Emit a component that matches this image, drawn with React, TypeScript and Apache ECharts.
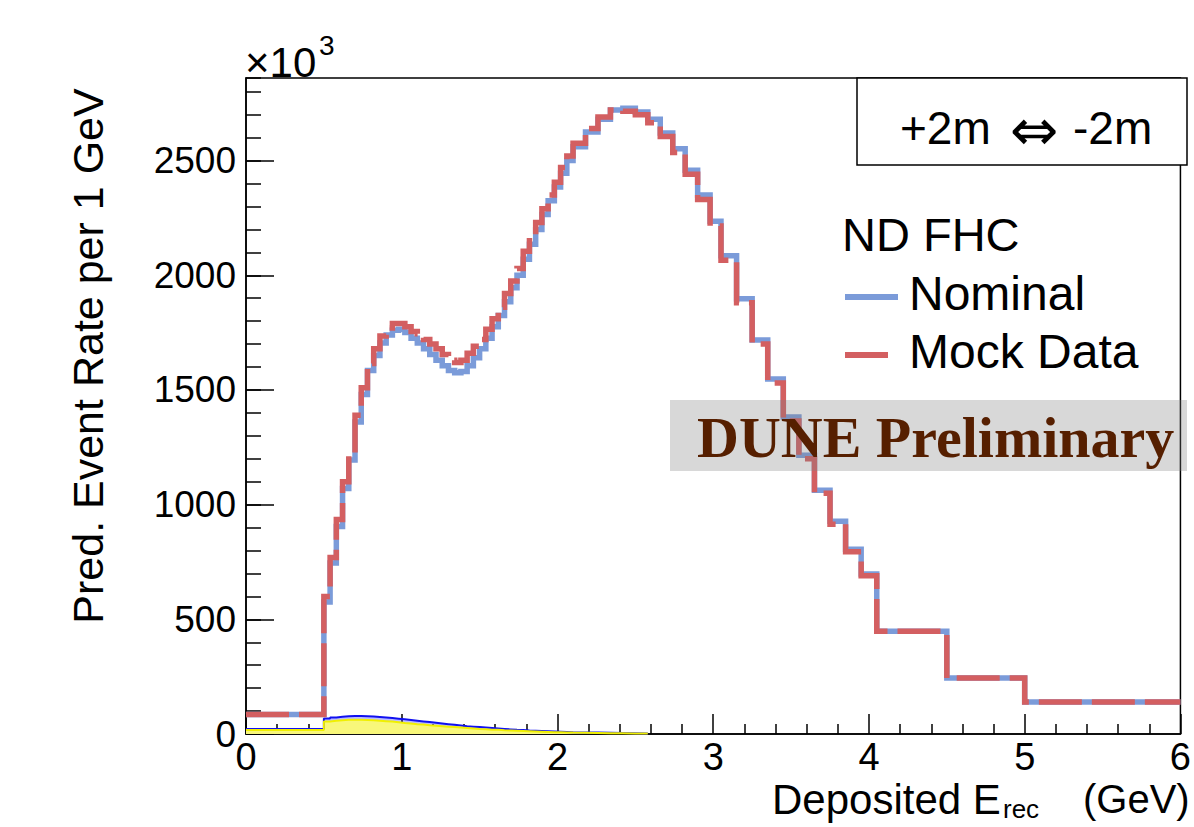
import React, { useEffect, useRef } from "react";
import * as echarts from "echarts";

// Bin edges (GeV) of the reconstructed deposited energy histogram
const EDGES = [
  0, 0.5, 0.54, 0.58, 0.62, 0.66, 0.7, 0.74, 0.78, 0.82, 0.86, 0.9, 0.94, 0.98,
  1.02, 1.06, 1.1, 1.14, 1.18, 1.22, 1.26, 1.3, 1.34, 1.38, 1.42, 1.46, 1.5,
  1.54, 1.58, 1.62, 1.66, 1.7, 1.74, 1.78, 1.82, 1.86, 1.9, 1.94, 1.98, 2.02,
  2.06, 2.1, 2.18, 2.26, 2.34, 2.42, 2.5, 2.58, 2.66, 2.74, 2.82, 2.9, 2.98,
  3.05, 3.15, 3.25, 3.35, 3.45, 3.55, 3.65, 3.75, 3.85, 3.95, 4.05, 4.5, 5, 6,
];

// Predicted event rate per 1 GeV (x10^3), Nominal
const NOMINAL = [
  85,
  575, 745, 905, 1070, 1195, 1360, 1480, 1585, 1650, 1705,
  1740, 1760, 1765, 1750, 1725, 1705, 1680, 1655, 1630, 1605,
  1585, 1575, 1580, 1605, 1640, 1680, 1725, 1775, 1825, 1885,
  1945, 2000, 2070, 2135, 2200, 2265, 2325, 2385, 2445, 2500,
  2560, 2625, 2680, 2720, 2728, 2712, 2680, 2620, 2552, 2458, 2350,
  2235,
  2085, 1898, 1718, 1548, 1382, 1215, 1063, 927, 805, 698,
  448, 244, 140,
];

// Mock Data
const MOCK = [
  85,
  600, 770, 935, 1100, 1225, 1390, 1510, 1615, 1680, 1735,
  1770, 1790, 1790, 1775, 1755, 1745, 1720, 1700, 1680, 1655,
  1630, 1620, 1630, 1660, 1690, 1720, 1765, 1810, 1860, 1920,
  1975, 2030, 2105, 2165, 2230, 2290, 2350, 2405, 2470, 2520,
  2575, 2640, 2690, 2720, 2715, 2700, 2665, 2605, 2535, 2440, 2330,
  2215,
  2065, 1880, 1700, 1530, 1365, 1200, 1050, 915, 795, 690,
  448, 244, 140,
];

// Small background components (first bins only; zero afterwards)
const BG_BLUE = [
  22,
  68, 72, 75, 77, 78, 78, 77, 76, 74, 72,
  70, 67, 64, 61, 58, 55, 52, 49, 46, 43,
  40, 37, 34, 32, 30, 28, 26, 24, 22, 20,
  18, 17, 15, 14, 13, 12, 11, 10, 9, 8,
  7, 6, 5, 4, 3, 2,
];
const BG_YELLOW = [
  17,
  55, 58, 60, 62, 62, 62, 61, 60, 58, 56,
  54, 51, 48, 46, 43, 41, 38, 36, 34, 32,
  30, 28, 26, 24, 22, 21, 19, 18, 16, 15,
  14, 13, 12, 11, 10, 9, 8, 8, 7, 6,
  5, 4, 3, 3, 2, 2,
];

const X_TICKS = [0, 1, 2, 3, 4, 5, 6];
const Y_MAX = 2860;

function stepPoints(vals: number[]) {
  const pts: number[][] = [];
  for (let i = 0; i < vals.length; i++) pts.push([EDGES[i], vals[i]]);
  pts.push([EDGES[vals.length], vals[vals.length - 1]]);
  return pts;
}

const FONT = "'Liberation Sans', 'DejaVu Sans', Arial, sans-serif";
const BLUE = "#7b9bd9";
const RED = "#d35f61";

export default function App() {
  const ref = useRef<HTMLDivElement>(null);
  useEffect(() => {
    if (!ref.current) return;
    const chart = echarts.init(ref.current, undefined, { renderer: "svg" });
    const txt = (
      text: string,
      x: number,
      y: number,
      size: number,
      extra: any = {},
      elExtra: any = {}
    ) => ({
      type: "text",
      x,
      y,
      z: 100,
      ...elExtra,
      style: {
        text,
        fill: "#000",
        fontSize: size,
        fontFamily: FONT,
        align: "left",
        verticalAlign: "middle",
        ...extra,
      },
    });
    chart.setOption({
      animation: false,
      backgroundColor: "#fff",
      grid: {
        left: 246,
        right: 7,
        top: 78,
        bottom: 93,
        show: true,
        borderColor: "#000",
        borderWidth: 1.5,
        backgroundColor: "transparent",
      },
      xAxis: {
        type: "value",
        min: X_TICKS[0],
        max: X_TICKS[X_TICKS.length - 1],
        interval: 1,
        axisLine: { show: true, lineStyle: { color: "#000", width: 1.5 } },
        axisTick: { show: true, inside: true, length: 20, lineStyle: { color: "#000", width: 1.5 } },
        minorTick: { show: true, splitNumber: 5, length: 10, lineStyle: { color: "#000", width: 1.5 } },
        splitLine: { show: false },
        minorSplitLine: { show: false },
        axisLabel: { color: "#000", fontSize: 38, fontFamily: FONT, margin: 4 },
      },
      yAxis: [
        {
          type: "value",
          min: 0,
          max: Y_MAX,
          interval: 500,
          axisLine: { show: true, lineStyle: { color: "#000", width: 1.5 } },
          axisTick: { show: true, inside: true, length: 28, lineStyle: { color: "#000", width: 1.5 } },
          splitLine: { show: false },
          axisLabel: {
            color: "#000",
            fontSize: 37,
            fontFamily: FONT,
            margin: 10,
            showMaxLabel: false,
            formatter: (v: number) => (v % 500 === 0 ? String(v) : ""),
          },
        },
        {
          type: "value",
          min: 0,
          max: Y_MAX,
          interval: 100,
          position: "left",
          offset: 0,
          axisLine: { show: false },
          axisTick: { show: true, inside: true, length: 15, lineStyle: { color: "#000", width: 1.5 } },
          splitLine: { show: false },
          axisLabel: { show: false },
        },
      ],
      series: [
        {
          name: "bgBlue",
          type: "line",
          step: "end",
          symbol: "none",
          data: stepPoints(BG_BLUE),
          lineStyle: { color: "#1010f0", width: 2 },
          areaStyle: { color: "rgba(40,40,255,0.45)", origin: "start" },
          z: 1,
        },
        {
          name: "bgYellow",
          type: "line",
          step: "end",
          symbol: "none",
          data: stepPoints(BG_YELLOW),
          lineStyle: { color: "#f0f000", width: 2 },
          areaStyle: { color: "#f8f77a", opacity: 1, origin: "start" },
          z: 1,
        },
        {
          name: "Nominal",
          type: "line",
          step: "end",
          symbol: "none",
          data: stepPoints(NOMINAL),
          lineStyle: { color: BLUE, width: 5.5, cap: "butt", join: "miter" },
          z: 3,
        },
        {
          name: "Mock Data",
          type: "line",
          step: "end",
          symbol: "none",
          data: stepPoints(MOCK),
          lineStyle: { color: RED, width: 5.5, type: [43, 10], cap: "butt", join: "miter" },
          z: 4,
        },
      ],
      graphic: [
        {
          type: "rect",
          z: 90,
          shape: { x: 857, y: 78, width: 330, height: 87 },
          style: { fill: "#fff", stroke: "#000", lineWidth: 1.5 },
        },
        txt("+2m", 900, 128, 46),
        txt("\u21D4", 1034, 130, 58, { align: "center", fontFamily: "'DejaVu Sans', sans-serif" }),
        txt("-2m", 1073, 128, 46),
        txt("ND FHC", 842, 234, 47),
        {
          type: "line",
          z: 100,
          shape: { x1: 845, y1: 297, x2: 898, y2: 297 },
          style: { stroke: BLUE, lineWidth: 6 },
        },
        txt("Nominal", 909, 293, 48),
        {
          type: "line",
          z: 100,
          shape: { x1: 845, y1: 355, x2: 898, y2: 355 },
          style: { stroke: RED, lineWidth: 6, lineDash: [43, 10] },
        },
        txt("Mock Data", 909, 351, 48),
        {
          type: "rect",
          z: 95,
          shape: { x: 670, y: 400, width: 517, height: 71 },
          style: { fill: "rgba(128,128,128,0.31)" },
        },
        txt("DUNE Preliminary", 697, 437, 58, {
          fontFamily: "'Liberation Serif', 'DejaVu Serif', serif",
          fontWeight: "bold",
          fill: "#561f00",
        }),
        txt("\u00D710", 245, 62, 42),
        txt("3", 319, 45, 28),
        txt("Pred. Event Rate per 1 GeV", 88, 356, 43, { align: "center" }, { rotation: Math.PI / 2 }),
        txt("Deposited E", 772, 799, 42),
        txt("rec", 1003, 809, 26),
        txt("(GeV)", 1083, 799, 40),
      ],
    });
    return () => chart.dispose();
  }, []);
  return (
    <div
      ref={ref}
      style={{ position: "fixed", left: 0, top: 0, width: 1194, height: 827, background: "#fff" }}
    />
  );
}
